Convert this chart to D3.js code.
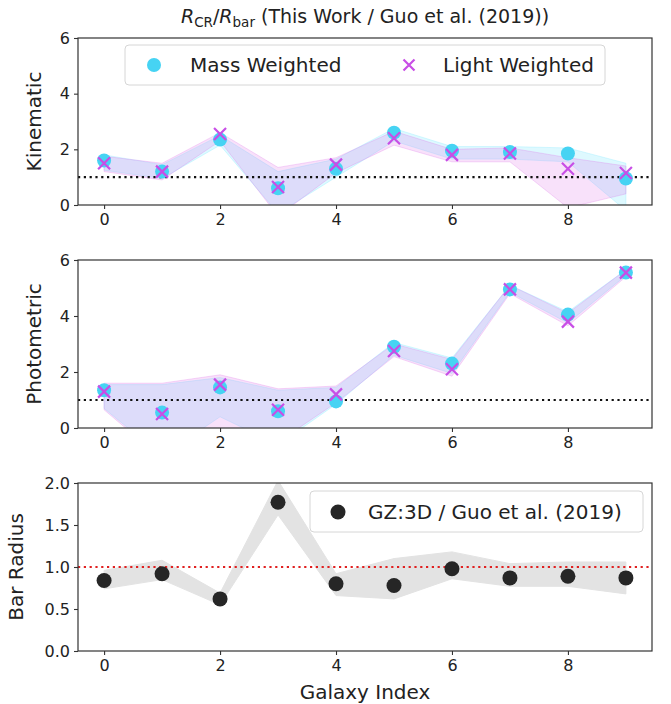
<!DOCTYPE html>
<html>
<head>
<meta charset="utf-8">
<script src="https://cdn.jsdelivr.net/npm/d3@7"></script>
<style>
  body { margin: 0; background: #fff; }
  svg { font-family: "DejaVu Sans", sans-serif; }
</style>
</head>
<body>
<svg id="chart" width="671" height="704"></svg>
<script>
const galaxyIndex = [0, 1, 2, 3, 4, 5, 6, 7, 8, 9];

// kinematic R_CR / R_bar
const kinMass = [1.6, 1.2, 2.35, 0.6, 1.3, 2.6, 1.95, 1.9, 1.85, 0.95];
const kinMassLo = [1.25, 0.95, 2.15, -0.3, 1.0, 2.3, 1.65, 1.65, 1.55, -0.2];
const kinMassHi = [1.8, 1.45, 2.5, 1.2, 1.65, 2.75, 2.1, 2.1, 2.05, 1.5];
const kinLight = [1.5, 1.2, 2.55, 0.65, 1.45, 2.4, 1.8, 1.85, 1.3, 1.15];
const kinLightLo = [1.2, 0.9, 2.3, -0.4, 1.15, 2.15, 1.55, 1.55, -0.1, 0.4];
const kinLightHi = [1.75, 1.5, 2.6, 1.35, 1.7, 2.65, 2.0, 2.05, 1.7, 1.4];

// photometric R_CR / R_bar
const phoMass = [1.35, 0.55, 1.45, 0.6, 0.95, 2.9, 2.3, 4.95, 4.05, 5.55];
const phoMassLo = [0.7, -1.0, 0.4, -0.6, 0.85, 2.6, 1.95, 4.85, 3.75, 5.45];
const phoMassHi = [1.55, 1.55, 1.8, 1.35, 1.45, 3.05, 2.5, 5.1, 4.15, 5.65];
const phoLight = [1.3, 0.5, 1.55, 0.65, 1.2, 2.75, 2.1, 4.95, 3.8, 5.55];
const phoLightLo = [0.65, -1.1, -0.3, -0.5, 0.9, 2.55, 1.85, 4.8, 3.65, 5.4];
const phoLightHi = [1.6, 1.6, 1.9, 1.4, 1.5, 3.0, 2.45, 5.1, 4.1, 5.65];

// bar radius ratio
const barRadius = [0.84, 0.92, 0.62, 1.77, 0.8, 0.78, 0.98, 0.87, 0.89, 0.87];
const barRadiusLo = [0.74, 0.85, 0.55, 1.62, 0.66, 0.62, 0.86, 0.77, 0.77, 0.68];
const barRadiusHi = [0.96, 1.08, 0.69, 2.03, 0.92, 1.1, 1.18, 1.04, 1.06, 1.06];

const xTicks = [0, 2, 4, 6, 8];

const svg = d3.select("#chart");
const left = 78;
const right = 652;
const massColor = "#46d3f3";
const lightColor = "#c84ee6";
const spineColor = "#333";
const textColor = "#222";

const x = d3.scaleLinear().domain([-0.45, 9.45]).range([left, right]);

const panels = [
  { top: 38, bottom: 205, domain: [0, 6], ticks: [0, 2, 4, 6], fmt: d3.format("d"), label: "Kinematic", labelX: 41 },
  { top: 260, bottom: 428, domain: [0, 6], ticks: [0, 2, 4, 6], fmt: d3.format("d"), label: "Photometric", labelX: 41 },
  { top: 483, bottom: 651, domain: [0, 2], ticks: [0, 0.5, 1, 1.5, 2], fmt: d3.format(".1f"), label: "Bar Radius", labelX: 23 },
];

panels.forEach((p, i) => {
  p.y = d3.scaleLinear().domain(p.domain).range([p.bottom, p.top]);
  p.g = svg.append("g");
  svg.append("clipPath").attr("id", `clip${i}`)
    .append("rect").attr("x", left).attr("y", p.top)
    .attr("width", right - left).attr("height", p.bottom - p.top);
  p.plot = p.g.append("g").attr("clip-path", `url(#clip${i})`);
});

const band = (y, lo, hi) => d3.area()
  .x((d, i) => x(galaxyIndex[i]))
  .y0((d, i) => y(lo[i]))
  .y1((d, i) => y(hi[i]))(galaxyIndex);

function drawBands(p, mLo, mHi, lLo, lHi) {
  p.plot.append("path").attr("d", band(p.y, mLo, mHi))
    .attr("fill", "#80e8ff").attr("fill-opacity", 0.26)
    .attr("stroke", "#80e8ff").attr("stroke-opacity", 0.3).attr("stroke-width", 1);
  p.plot.append("path").attr("d", band(p.y, lLo, lHi))
    .attr("fill", "#dc69e6").attr("fill-opacity", 0.2)
    .attr("stroke", "#dc69e6").attr("stroke-opacity", 0.25).attr("stroke-width", 1);
}

function drawRefLine(p, color) {
  p.plot.append("line")
    .attr("x1", left).attr("x2", right)
    .attr("y1", p.y(1)).attr("y2", p.y(1))
    .attr("stroke", color).attr("stroke-width", 2.2)
    .attr("stroke-dasharray", "2.2,3.6");
}

function drawCross(g, cx, cy, r) {
  g.append("path")
    .attr("d", `M${cx - r},${cy - r}L${cx + r},${cy + r}M${cx - r},${cy + r}L${cx + r},${cy - r}`)
    .attr("stroke", lightColor).attr("stroke-width", 2.2).attr("fill", "none");
}

function drawMarkers(p, mass, light) {
  p.plot.selectAll(null).data(mass).enter().append("circle")
    .attr("cx", (d, i) => x(galaxyIndex[i])).attr("cy", (d) => p.y(d))
    .attr("r", 7).attr("fill", massColor);
  light.forEach((d, i) => drawCross(p.plot, x(galaxyIndex[i]), p.y(d), 6));
}

// kinematic panel
drawBands(panels[0], kinMassLo, kinMassHi, kinLightLo, kinLightHi);
drawRefLine(panels[0], "#111");
drawMarkers(panels[0], kinMass, kinLight);

// photometric panel
drawBands(panels[1], phoMassLo, phoMassHi, phoLightLo, phoLightHi);
drawRefLine(panels[1], "#111");
drawMarkers(panels[1], phoMass, phoLight);

// bar radius panel
const p3 = panels[2];
p3.plot.append("path").attr("d", band(p3.y, barRadiusLo, barRadiusHi))
  .attr("fill", "#e3e3e3").attr("stroke", "#e3e3e3").attr("stroke-width", 1);
drawRefLine(p3, "#e02020");
p3.plot.selectAll(null).data(barRadius).enter().append("circle")
  .attr("cx", (d, i) => x(galaxyIndex[i])).attr("cy", (d) => p3.y(d))
  .attr("r", 7.5).attr("fill", "#262626");

// axes
panels.forEach((p) => {
  const xAxis = p.g.append("g").attr("transform", `translate(0,${p.bottom})`)
    .call(d3.axisBottom(x).tickValues(xTicks).tickSize(4).tickPadding(5).tickFormat(d3.format("d")));
  const yAxis = p.g.append("g").attr("transform", `translate(${left},0)`)
    .call(d3.axisLeft(p.y).tickValues(p.ticks).tickSize(4).tickPadding(4).tickFormat(p.fmt));
  [xAxis, yAxis].forEach((a) => {
    a.select(".domain").remove();
    a.selectAll("line").attr("stroke", spineColor).attr("stroke-width", 1.1);
    a.selectAll("text").attr("font-size", 16).attr("fill", textColor)
      .attr("font-family", "DejaVu Sans, sans-serif");
  });
  p.g.append("rect").attr("x", left).attr("y", p.top)
    .attr("width", right - left).attr("height", p.bottom - p.top)
    .attr("fill", "none").attr("stroke", spineColor).attr("stroke-width", 1.2);
  p.g.append("text")
    .attr("transform", `translate(${p.labelX},${(p.top + p.bottom) / 2}) rotate(-90)`)
    .attr("text-anchor", "middle").attr("font-size", 20).attr("fill", textColor)
    .text(p.label);
});

// legends
const leg1 = svg.append("g");
leg1.append("rect").attr("x", 125).attr("y", 45).attr("width", 480).attr("height", 40)
  .attr("rx", 4).attr("fill", "#fff").attr("fill-opacity", 0.85)
  .attr("stroke", "#d6d6d6").attr("stroke-width", 1);
leg1.append("circle").attr("cx", 154).attr("cy", 65).attr("r", 7).attr("fill", massColor);
leg1.append("text").attr("x", 190).attr("y", 72).attr("font-size", 20).attr("fill", textColor).text("Mass Weighted");
drawCross(leg1, 409, 65, 5.5);
leg1.append("text").attr("x", 443).attr("y", 72).attr("font-size", 20).attr("fill", textColor).text("Light Weighted");

const leg3 = svg.append("g");
leg3.append("rect").attr("x", 310).attr("y", 491).attr("width", 333).attr("height", 41)
  .attr("rx", 4).attr("fill", "#fff").attr("fill-opacity", 0.85)
  .attr("stroke", "#d6d6d6").attr("stroke-width", 1);
leg3.append("circle").attr("cx", 338).attr("cy", 512).attr("r", 7.5).attr("fill", "#262626");
leg3.append("text").attr("x", 368).attr("y", 519).attr("font-size", 20).attr("fill", textColor).text("GZ:3D / Guo et al. (2019)");

// title
const title = svg.append("text").attr("x", 365).attr("y", 23)
  .attr("text-anchor", "middle").attr("font-size", 19).attr("fill", textColor);
title.append("tspan").attr("font-style", "italic").text("R");
title.append("tspan").attr("font-size", 13.5).attr("dy", 4).text("CR");
title.append("tspan").attr("dy", -4).text("/");
title.append("tspan").attr("font-style", "italic").text("R");
title.append("tspan").attr("font-size", 13.5).attr("dy", 4).text("bar");
title.append("tspan").attr("dy", -4).text(" (This Work / Guo et al. (2019))");

svg.append("text").attr("x", (left + right) / 2).attr("y", 699)
  .attr("text-anchor", "middle").attr("font-size", 20).attr("fill", textColor)
  .text("Galaxy Index");
</script>
</body>
</html>
